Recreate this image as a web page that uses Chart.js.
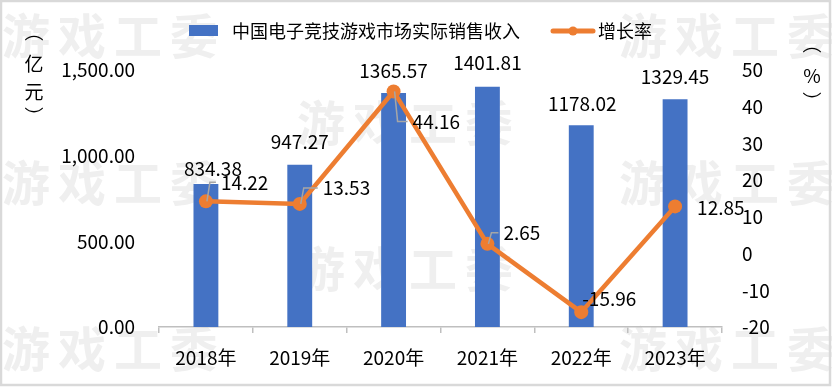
<!DOCTYPE html>
<html>
<head>
<meta charset="utf-8">
<script src="https://cdn.jsdelivr.net/npm/chart.js@4"></script>
<style>
  html, body { margin: 0; padding: 0; background: #fff; }
  canvas { display: block; }
</style>
</head>
<body>
<canvas id="chart" width="832" height="387"></canvas>
<script>
// 数据
const years = ['2018年', '2019年', '2020年', '2021年', '2022年', '2023年'];
const revenue = [834.38, 947.27, 1365.57, 1401.81, 1178.02, 1329.45];
const growth = [14.22, 13.53, 44.16, 2.65, -15.96, 12.85];
const revenueRange = [0, 1500, 500];
const growthRange = [-20, 50, 10];

const seriesNames = ['中国电子竞技游戏市场实际销售收入', '增长率'];
const leftTitle = ['︵', '亿', '元', '︶'];
const rightTitle = ['︵', '%', '︶'];
const watermark = '游戏工委';

// 标签位置 (样式)
const barLabelShift = [[7, -15], [0, -23], [0, -22], [0, -24], [1, -21], [0, -22]];
const lineLabelShift = [[15, -19], [23, -16], [19, 30], [16, -11], [1, -13], [22, 1]];
const leaderShown = [true, true, true, true, false, false];

const BLUE = '#4472C4';
const ORANGE = '#ED7D31';
const FONT = '"Noto Sans CJK SC", "Noto Sans", sans-serif';

const fmt2 = v => Number(v).toLocaleString('en-US', { minimumFractionDigits: 2, maximumFractionDigits: 2 });

// 水印、图例、轴标题、数据标签
const decoPlugin = {
  id: 'deco',
  beforeDraw(chart) {
    const ctx = chart.ctx;
    ctx.save();
    ctx.fillStyle = '#fff';
    ctx.fillRect(0, 0, chart.width, chart.height);
    ctx.fillStyle = '#efefef';
    ctx.font = 'bold 48px ' + FONT;
    ctx.textBaseline = 'middle';
    ctx.textAlign = 'left';
    const rows = [[36, [2, 619]], [123, [297]], [183, [2, 619]], [269, [297]], [349, [2, 619]]];
    for (const [y, xs] of rows) {
      for (const x0 of xs) {
        [...watermark].forEach((ch, i) => ctx.fillText(ch, x0 + i * 56, y));
      }
    }
    ctx.restore();
  },
  afterDatasetsDraw(chart) {
    const ctx = chart.ctx;
    ctx.save();
    ctx.fillStyle = '#000';
    ctx.font = '19px ' + FONT;
    ctx.textBaseline = 'middle';

    // 柱子数值
    const barMeta = chart.getDatasetMeta(1);
    ctx.textAlign = 'center';
    barMeta.data.forEach((el, i) => {
      const [dx, dy] = barLabelShift[i];
      ctx.fillText(revenue[i].toFixed(2), el.x + dx, el.y + dy);
    });

    // 增长率数值
    const lineMeta = chart.getDatasetMeta(0);
    ctx.textAlign = 'left';
    lineMeta.data.forEach((el, i) => {
      const [dx, dy] = lineLabelShift[i];
      if (leaderShown[i]) {
        ctx.strokeStyle = '#a6a6a6';
        ctx.lineWidth = 1.5;
        ctx.beginPath();
        ctx.moveTo(el.x + 1, el.y);
        ctx.lineTo(el.x + 4, el.y + dy);
        ctx.lineTo(el.x + dx - 5, el.y + dy);
        ctx.stroke();
      }
      ctx.fillText(growth[i].toFixed(2), el.x + dx, el.y + dy);
    });

    // 图例
    ctx.font = '18px ' + FONT;
    ctx.fillStyle = BLUE;
    ctx.fillRect(189, 25, 29, 11);
    ctx.fillStyle = '#000';
    ctx.fillText(seriesNames[0], 232, 31);
    ctx.strokeStyle = ORANGE;
    ctx.lineWidth = 5;
    ctx.lineCap = 'round';
    ctx.beginPath();
    ctx.moveTo(553, 31);
    ctx.lineTo(593, 31);
    ctx.stroke();
    ctx.fillStyle = ORANGE;
    ctx.beginPath();
    ctx.arc(573, 31, 4.5, 0, Math.PI * 2);
    ctx.fill();
    ctx.fillStyle = '#000';
    ctx.fillText(seriesNames[1], 598, 31);

    // 轴标题 (竖排)
    ctx.font = '19px ' + FONT;
    ctx.textAlign = 'center';
    const ly = [32, 64, 92, 117];
    leftTitle.forEach((ch, i) => ctx.fillText(ch, 34, ly[i]));
    const ry = [44, 76, 102];
    rightTitle.forEach((ch, i) => ctx.fillText(ch, 812, ry[i]));

    // 外框
    ctx.strokeStyle = '#d9d9d9';
    ctx.lineWidth = 2.5;
    ctx.strokeRect(1, 1, 829, 384);
    ctx.restore();
  }
};

new Chart(document.getElementById('chart'), {
  data: {
    labels: years,
    datasets: [
      {
        type: 'line',
        label: seriesNames[1],
        data: growth,
        yAxisID: 'y1',
        borderColor: ORANGE,
        backgroundColor: ORANGE,
        borderWidth: 4.5,
        pointRadius: 7,
        pointBackgroundColor: ORANGE,
        pointBorderWidth: 0,
        tension: 0,
        order: 1
      },
      {
        type: 'bar',
        label: seriesNames[0],
        data: revenue,
        yAxisID: 'y',
        backgroundColor: BLUE,
        categoryPercentage: 1,
        barPercentage: 0.265,
        order: 2
      }
    ]
  },
  options: {
    responsive: false,
    animation: false,
    devicePixelRatio: 1,
    layout: { padding: { top: 70, bottom: 0, left: 0, right: 0 } },
    plugins: { legend: { display: false }, tooltip: { enabled: false } },
    scales: {
      x: {
        offset: true,
        grid: { display: true, drawOnChartArea: false, drawTicks: true, tickLength: 6, offset: true, color: '#bfbfbf', lineWidth: 1.5 },
        border: { display: true, color: '#bfbfbf', width: 1.5 },
        ticks: { color: '#000', font: { family: FONT, size: 19 }, padding: 13, maxRotation: 0 },
        afterFit: s => { s.height = 60; }
      },
      y: {
        position: 'left',
        min: revenueRange[0], max: revenueRange[1],
        grid: { display: false },
        border: { display: false },
        ticks: { stepSize: revenueRange[2], color: '#000', font: { family: FONT, size: 19 }, padding: 16, callback: v => fmt2(v) },
        afterFit: s => { s.width = 159; }
      },
      y1: {
        position: 'right',
        min: growthRange[0], max: growthRange[1],
        grid: { display: false },
        border: { display: false },
        ticks: { stepSize: growthRange[2], color: '#000', font: { family: FONT, size: 19 }, padding: 12 },
        afterFit: s => { s.width = 110; }
      }
    }
  },
  plugins: [decoPlugin]
});
</script>
</body>
</html>
